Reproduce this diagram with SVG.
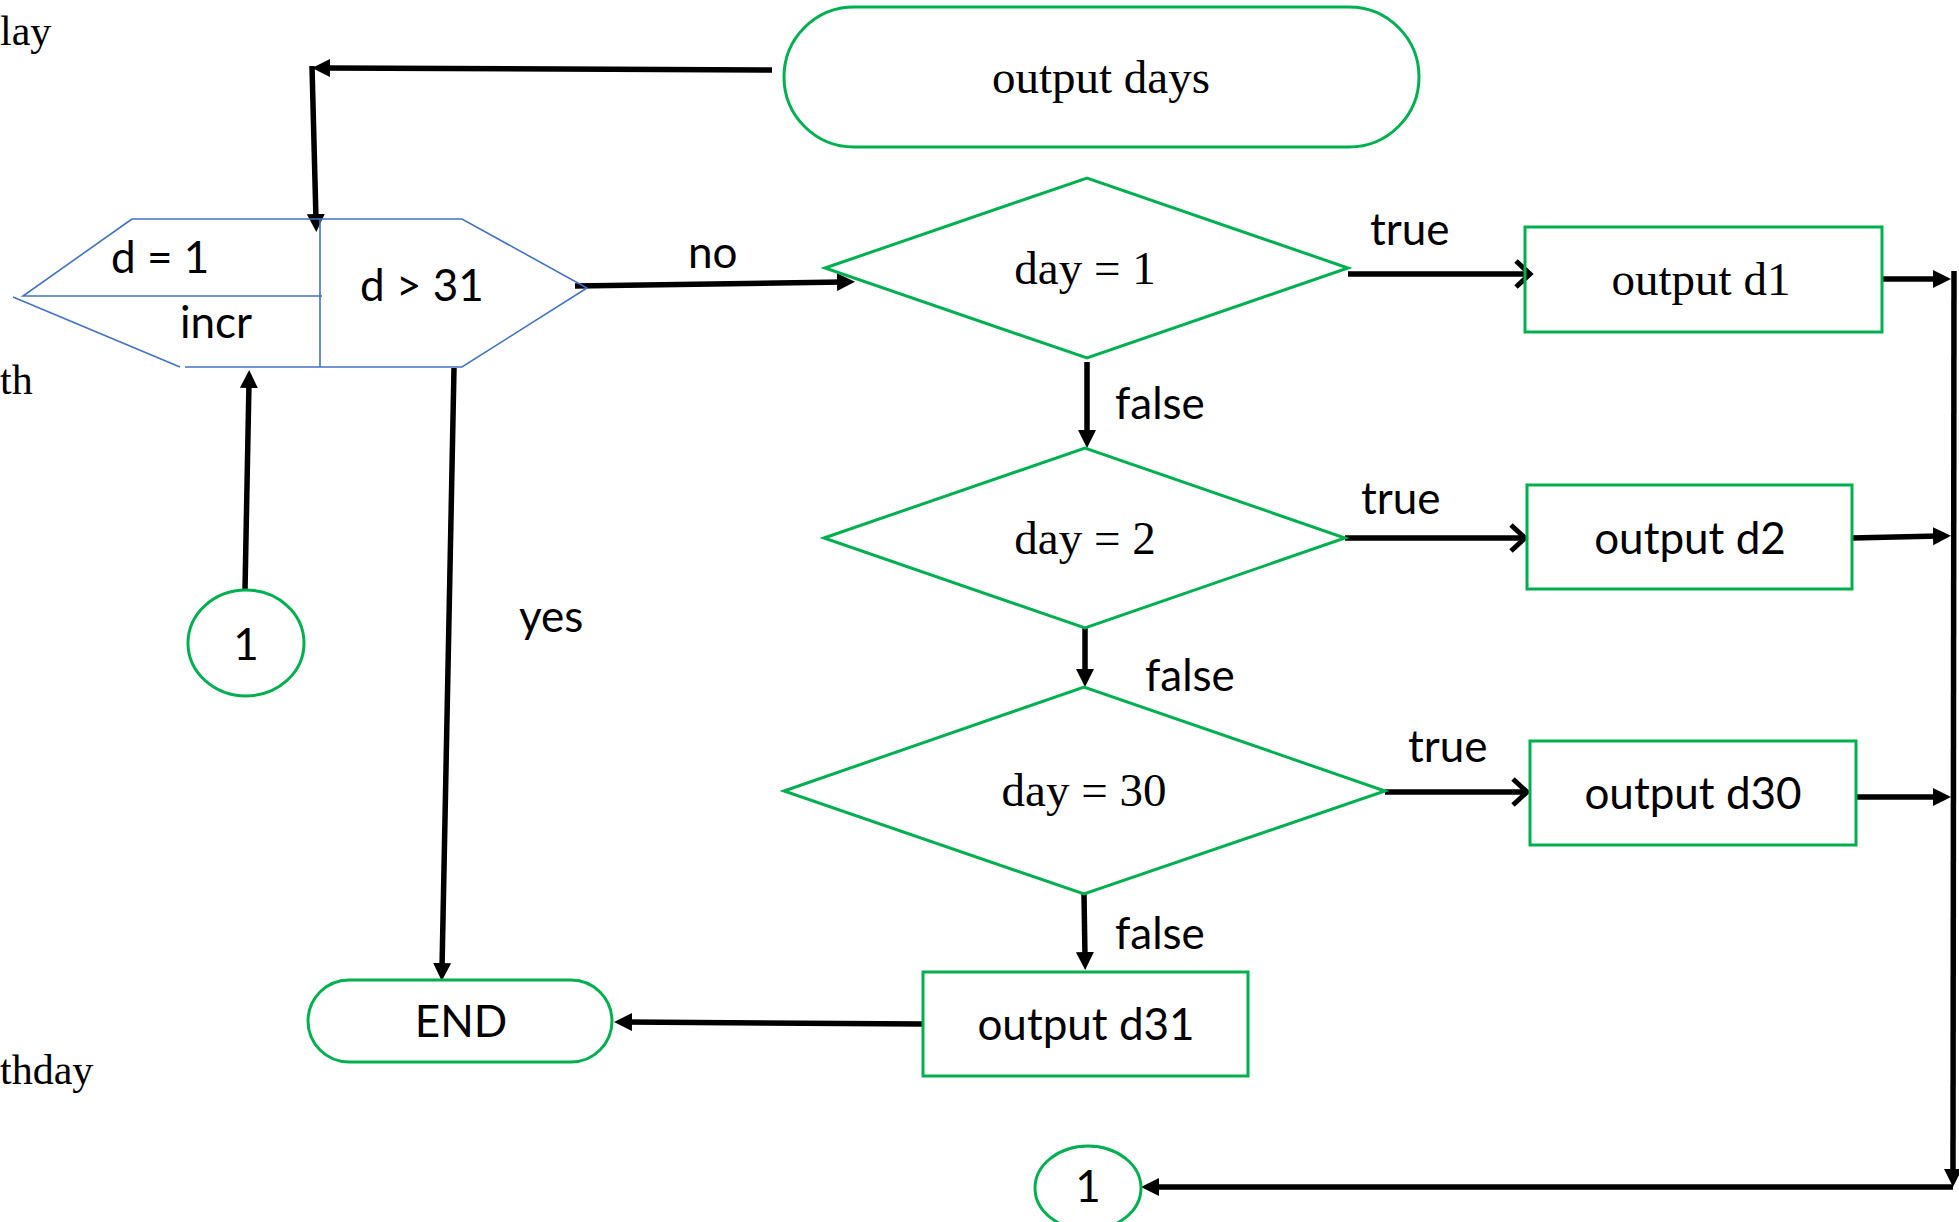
<svg xmlns="http://www.w3.org/2000/svg" width="1959" height="1222" viewBox="0 0 1959 1222">
  <style>
    .bg { fill: #ffffff; }
    .shape { fill: none; stroke: #00B050; stroke-width: 3; }
    .loop { fill: none; stroke: #4472C4; stroke-width: 1.6; }
    .conn { fill: none; stroke: #000000; stroke-width: 5.5; }
    .serif { font-family: "Liberation Serif", "Times New Roman", serif; font-size: 47px; fill: #000; }
    .margin { font-family: "Liberation Serif", "Times New Roman", serif; font-size: 42px; fill: #000; }
    .sans { font-family: Lato, "Open Sans", "Liberation Sans", sans-serif; font-size: 44px; fill: #000; }
    .mid { text-anchor: middle; }
  </style>
  <defs>
    <marker id="tri" markerUnits="userSpaceOnUse" markerWidth="22" markerHeight="20" refX="6" refY="9" orient="auto">
      <path d="M0,0 L18,9 L0,18 Z" fill="#000"/>
    </marker>
    <marker id="chev" markerUnits="userSpaceOnUse" markerWidth="26" markerHeight="32" refX="17" refY="15" orient="auto">
      <path d="M3,2 L17,15 L3,28" fill="none" stroke="#000" stroke-width="5"/>
    </marker>
  </defs>

  <rect class="bg" x="0" y="0" width="1959" height="1222"/>

  <!-- text fragments running in from the left margin -->
  <g id="margin-text">
    <text class="margin" x="0" y="45">lay</text>
    <text class="margin" x="0" y="394">th</text>
    <text class="margin" x="0" y="1084">thday</text>
  </g>

  <!-- connectors -->
  <g id="connectors">
    <path class="conn" d="M772,70 L324,68" marker-end="url(#tri)"/>
    <path class="conn" d="M312,66 L316,220" marker-end="url(#tri)"/>
    <path class="conn" d="M575,286 L843,282" marker-end="url(#tri)"/>
    <path class="conn" d="M1348,274 L1530,274" marker-end="url(#chev)"/>
    <path class="conn" d="M1882,279 L1939,279" marker-end="url(#tri)"/>
    <path class="conn" d="M1954,271 L1953,1175" marker-end="url(#tri)"/>
    <path class="conn" d="M1953,1187 L1153,1187" marker-end="url(#tri)"/>
    <path class="conn" d="M1087,362 L1087,436" marker-end="url(#tri)"/>
    <path class="conn" d="M1345,538 L1525,538" marker-end="url(#chev)"/>
    <path class="conn" d="M1852,538 L1939,536" marker-end="url(#tri)"/>
    <path class="conn" d="M1085,628 L1085,675" marker-end="url(#tri)"/>
    <path class="conn" d="M1385,792 L1527,792" marker-end="url(#chev)"/>
    <path class="conn" d="M1856,797 L1939,797" marker-end="url(#tri)"/>
    <path class="conn" d="M1084,894 L1085,958" marker-end="url(#tri)"/>
    <path class="conn" d="M923,1024 L626,1022" marker-end="url(#tri)"/>
    <path class="conn" d="M454,368 L442,969" marker-end="url(#tri)"/>
    <path class="conn" d="M245,590 L249,382" marker-end="url(#tri)"/>
  </g>

  <!-- edge labels -->
  <g id="labels">
    <text class="sans" x="688" y="268">no</text>
    <text class="sans" x="519" y="632">yes</text>
    <text class="sans" x="1370" y="245">true</text>
    <text class="sans" x="1361" y="514">true</text>
    <text class="sans" x="1408" y="762">true</text>
    <text class="sans" x="1115" y="419">false</text>
    <text class="sans" x="1145" y="691">false</text>
    <text class="sans" x="1115" y="949">false</text>
  </g>

  <g id="output-days">
    <rect class="shape" x="784" y="7" width="635" height="140" rx="70" ry="70"/>
    <text class="serif mid" x="1101" y="93">output days</text>
  </g>

  <g id="loop">
    <path class="loop" d="M132,219 L462,219 L587,288 L462,367 L185,367"/>
    <path class="loop" d="M132,219 L23,296 L322,296"/>
    <path class="loop" d="M13,297 L180,367"/>
    <path class="loop" d="M320,219 L320,367"/>
    <text class="sans" x="111" y="273">d = 1</text>
    <text class="sans" x="180" y="338">incr</text>
    <text class="sans" x="360" y="301">d &gt; 31</text>
  </g>

  <g id="connector-in">
    <ellipse class="shape" cx="246" cy="643" rx="58" ry="53"/>
    <text class="sans mid" x="246" y="660">1</text>
  </g>

  <g id="day1">
    <path class="shape" d="M825,268 L1087,178 L1348,268 L1087,358 Z"/>
    <text class="serif mid" x="1085" y="284">day = 1</text>
  </g>

  <g id="out-d1">
    <rect class="shape" x="1525" y="227" width="357" height="105"/>
    <text class="serif mid" x="1701" y="295">output d1</text>
  </g>

  <g id="day2">
    <path class="shape" d="M824,538 L1085,448 L1345,538 L1085,628 Z"/>
    <text class="serif mid" x="1085" y="554">day = 2</text>
  </g>

  <g id="out-d2">
    <rect class="shape" x="1527" y="485" width="325" height="104"/>
    <text class="sans mid" x="1690" y="554">output d2</text>
  </g>

  <g id="day30">
    <path class="shape" d="M784,791 L1084,687 L1385,791 L1084,894 Z"/>
    <text class="serif mid" x="1084" y="806">day = 30</text>
  </g>

  <g id="out-d30">
    <rect class="shape" x="1530" y="741" width="326" height="104"/>
    <text class="sans mid" x="1693" y="809">output d30</text>
  </g>

  <g id="out-d31">
    <rect class="shape" x="923" y="972" width="325" height="104"/>
    <text class="sans mid" x="1086" y="1040">output d31</text>
  </g>

  <g id="end">
    <rect class="shape" x="308" y="980" width="304" height="82" rx="41" ry="41"/>
    <text class="sans mid" x="461" y="1037">END</text>
  </g>

  <g id="connector-out">
    <ellipse class="shape" cx="1088" cy="1188" rx="53" ry="42"/>
    <text class="sans mid" x="1088" y="1202">1</text>
  </g>
</svg>
